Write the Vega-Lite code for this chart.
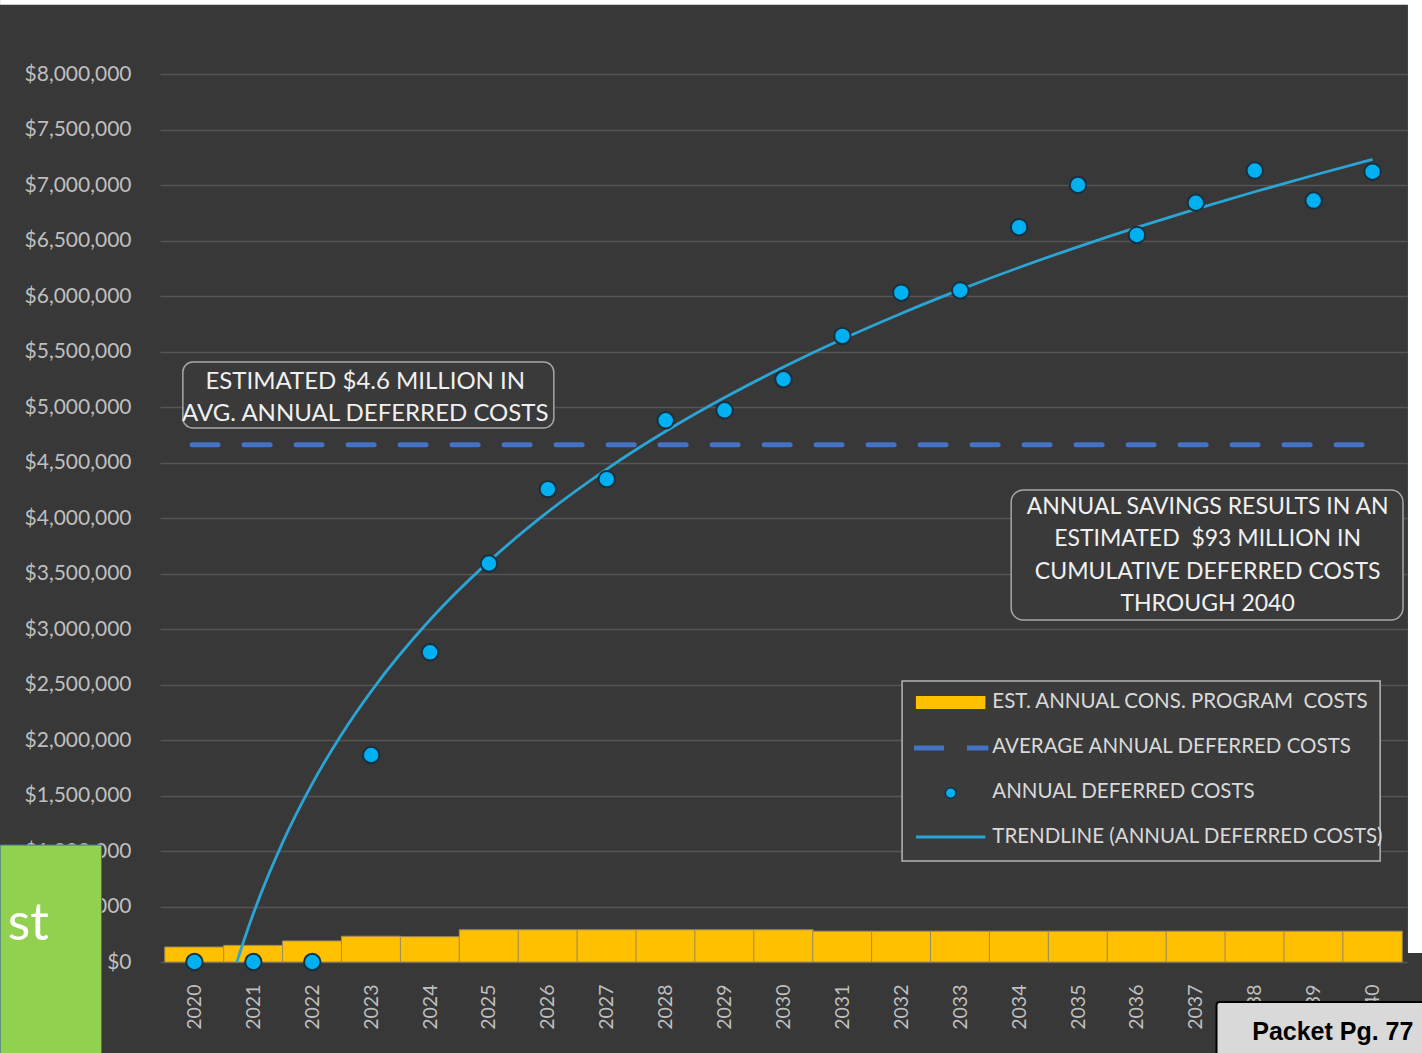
{
  "$schema": "https://vega.github.io/schema/vega-lite/v6.json",
  "width": 1247,
  "height": 888,
  "autosize": {"type": "none"},
  "padding": {"left": 160, "top": 74, "right": 15, "bottom": 91},
  "background": "#383838",
  "config": {"view": {"stroke": null}, "font": "Lato"},
  "datasets": {
    "bars": [
      {"year": 2020, "cost": 135000}, {"year": 2021, "cost": 150000}, {"year": 2022, "cost": 190000},
      {"year": 2023, "cost": 232000}, {"year": 2024, "cost": 228000}, {"year": 2025, "cost": 290000},
      {"year": 2026, "cost": 290000}, {"year": 2027, "cost": 290000}, {"year": 2028, "cost": 290000},
      {"year": 2029, "cost": 290000}, {"year": 2030, "cost": 290000}, {"year": 2031, "cost": 278000},
      {"year": 2032, "cost": 278000}, {"year": 2033, "cost": 278000}, {"year": 2034, "cost": 278000},
      {"year": 2035, "cost": 278000}, {"year": 2036, "cost": 278000}, {"year": 2037, "cost": 278000},
      {"year": 2038, "cost": 278000}, {"year": 2039, "cost": 278000}, {"year": 2040, "cost": 278000}
    ],
    "points": [
      {"year": 2020, "deferred": 0}, {"year": 2021, "deferred": 0}, {"year": 2022, "deferred": 0},
      {"year": 2023, "deferred": 1865000}, {"year": 2024, "deferred": 2790000}, {"year": 2025, "deferred": 3590000},
      {"year": 2026, "deferred": 4260000}, {"year": 2027, "deferred": 4350000}, {"year": 2028, "deferred": 4880000},
      {"year": 2029, "deferred": 4970000}, {"year": 2030, "deferred": 5250000}, {"year": 2031, "deferred": 5640000},
      {"year": 2032, "deferred": 6030000}, {"year": 2033, "deferred": 6050000}, {"year": 2034, "deferred": 6620000},
      {"year": 2035, "deferred": 7000000}, {"year": 2036, "deferred": 6550000}, {"year": 2037, "deferred": 6840000},
      {"year": 2038, "deferred": 7130000}, {"year": 2039, "deferred": 6860000}, {"year": 2040, "deferred": 7120000}
    ],
    "trend": [
      {"year": 2020.72, "trend": 0}, {"year": 2020.85, "trend": 210000}, {"year": 2021, "trend": 436000},
      {"year": 2021.5, "trend": 1080000}, {"year": 2022, "trend": 1607000}, {"year": 2022.5, "trend": 2052000},
      {"year": 2023, "trend": 2438000}, {"year": 2024, "trend": 3083000}, {"year": 2025, "trend": 3609000},
      {"year": 2026, "trend": 4055000}, {"year": 2027, "trend": 4441000}, {"year": 2028, "trend": 4781000},
      {"year": 2029, "trend": 5085000}, {"year": 2030, "trend": 5360000}, {"year": 2031, "trend": 5612000},
      {"year": 2032, "trend": 5843000}, {"year": 2033, "trend": 6057000}, {"year": 2034, "trend": 6257000},
      {"year": 2035, "trend": 6443000}, {"year": 2036, "trend": 6618000}, {"year": 2037, "trend": 6783000},
      {"year": 2038, "trend": 6939000}, {"year": 2039, "trend": 7088000}, {"year": 2040, "trend": 7230000}
    ],
    "avg": [
      {"year": 2019.96, "average": 4660000}, {"year": 2040.04, "average": 4660000}
    ]
  },
  "layer": [
    {
      "data": {"name": "bars"},
      "mark": {"type": "bar", "size": 59.4, "fill": "#ffc000", "stroke": "#9a8a62", "strokeWidth": 1},
      "encoding": {
        "x": {
          "field": "year", "type": "quantitative",
          "scale": {"domain": [2019.5, 2040.5], "nice": false, "zero": false},
          "axis": {
            "title": null, "values": [2020,2021,2022,2023,2024,2025,2026,2027,2028,2029,2030,2031,2032,2033,2034,2035,2036,2037,2038,2039,2040],
            "format": "d", "labelAngle": -90, "labelFont": "Lato", "labelFontSize": 19.5, "labelColor": "#bfbfbf",
            "labelPadding": 22, "ticks": false, "domain": false, "grid": false, "labelOverlap": false
          }
        },
        "y": {
          "field": "cost", "type": "quantitative",
          "scale": {"domain": [0, 8000000], "nice": false},
          "axis": {
            "title": null, "values": [0,500000,1000000,1500000,2000000,2500000,3000000,3500000,4000000,4500000,5000000,5500000,6000000,6500000,7000000,7500000,8000000],
            "format": "$,.0f", "labelFont": "Lato", "labelFontSize": 21, "labelColor": "#bfbfbf", "labelPadding": 29,
            "ticks": false, "domain": false, "gridColor": "#555555", "gridWidth": 1.5
          }
        }
      }
    },
    {
      "data": {"name": "avg"},
      "mark": {"type": "line", "stroke": "#4472c4", "strokeWidth": 5, "strokeDash": [26, 26], "strokeCap": "round"},
      "encoding": {
        "x": {"field": "year", "type": "quantitative"},
        "y": {"field": "average", "type": "quantitative"}
      }
    },
    {
      "data": {"name": "trend"},
      "mark": {"type": "line", "stroke": "#2aa5d6", "strokeWidth": 2.8, "interpolate": "monotone"},
      "encoding": {
        "x": {"field": "year", "type": "quantitative"},
        "y": {"field": "trend", "type": "quantitative"}
      }
    },
    {
      "data": {"name": "points"},
      "mark": {"type": "point", "filled": true, "size": 270, "fill": "#00b0f0", "stroke": "#173040", "strokeWidth": 2, "opacity": 1},
      "encoding": {
        "x": {"field": "year", "type": "quantitative"},
        "y": {"field": "deferred", "type": "quantitative"}
      }
    },
    {
      "data": {"values": [{}]},
      "mark": {"type": "rect", "cornerRadius": 10, "fill": "#3a3a3a", "stroke": "#a6a6a6", "strokeWidth": 1.5},
      "encoding": {
        "x": {"datum": 2019.803, "type": "quantitative"}, "x2": {"datum": 2026.101},
        "y": {"datum": 4811000, "type": "quantitative"}, "y2": {"datum": 5405000}
      }
    },
    {
      "data": {"values": [{"note": "ESTIMATED $4.6 MILLION IN\nAVG. ANNUAL DEFERRED COSTS"}]},
      "mark": {"type": "text", "lineBreak": "\n", "lineHeight": 32, "fontSize": 24, "font": "Lato", "color": "#f0f0f0", "align": "center", "baseline": "middle"},
      "encoding": {
        "x": {"datum": 2022.9, "type": "quantitative"},
        "y": {"datum": 5225000, "type": "quantitative"},
        "text": {"field": "note"}
      }
    },
    {
      "data": {"values": [{}]},
      "mark": {"type": "rect", "cornerRadius": 12, "fill": "#3a3a3a", "stroke": "#a6a6a6", "strokeWidth": 1.5},
      "encoding": {
        "x": {"datum": 2033.865, "type": "quantitative"}, "x2": {"datum": 2040.517},
        "y": {"datum": 3081000, "type": "quantitative"}, "y2": {"datum": 4252000}
      }
    },
    {
      "data": {"values": [{"note": "ANNUAL SAVINGS RESULTS IN AN\nESTIMATED\u00a0 $93 MILLION IN\nCUMULATIVE DEFERRED COSTS\nTHROUGH 2040"}]},
      "mark": {"type": "text", "lineBreak": "\n", "lineHeight": 32.5, "fontSize": 23, "font": "Lato", "color": "#f0f0f0", "align": "center", "baseline": "middle"},
      "encoding": {
        "x": {"datum": 2037.2, "type": "quantitative"},
        "y": {"datum": 4100000, "type": "quantitative"},
        "text": {"field": "note"}
      }
    },
    {
      "data": {"values": [{}]},
      "mark": {"type": "rect", "fill": "#3b3b3b", "stroke": "#b5b5b5", "strokeWidth": 1.5},
      "encoding": {
        "x": {"datum": 2032.013, "type": "quantitative"}, "x2": {"datum": 2040.129},
        "y": {"datum": 2531500, "type": "quantitative"}, "y2": {"datum": 910000}
      }
    },
    {
      "data": {"values": [{}]},
      "mark": {"type": "rect", "fill": "#ffc000"},
      "encoding": {
        "x": {"datum": 2032.248, "type": "quantitative"}, "x2": {"datum": 2033.427},
        "y": {"datum": 2396000, "type": "quantitative"}, "y2": {"datum": 2279000}
      }
    },
    {
      "data": {"values": [{}]},
      "mark": {"type": "rule", "stroke": "#4472c4", "strokeWidth": 5, "strokeDash": [30, 23]},
      "encoding": {
        "x": {"datum": 2032.215, "type": "quantitative"}, "x2": {"datum": 2033.478},
        "y": {"datum": 1928000, "type": "quantitative"}
      }
    },
    {
      "data": {"values": [{}]},
      "mark": {"type": "point", "filled": true, "size": 115, "fill": "#00b0f0", "stroke": "#173040", "strokeWidth": 1.5, "opacity": 1},
      "encoding": {
        "x": {"datum": 2032.838, "type": "quantitative"},
        "y": {"datum": 1522500, "type": "quantitative"}
      }
    },
    {
      "data": {"values": [{}]},
      "mark": {"type": "rule", "stroke": "#2aa5d6", "strokeWidth": 3},
      "encoding": {
        "x": {"datum": 2032.248, "type": "quantitative"}, "x2": {"datum": 2033.427},
        "y": {"datum": 1126000, "type": "quantitative"}
      }
    },
    {
      "data": {"values": [{"entries": "EST. ANNUAL CONS. PROGRAM\u00a0 COSTS\nAVERAGE ANNUAL DEFERRED COSTS\nANNUAL DEFERRED COSTS\nTRENDLINE (ANNUAL DEFERRED COSTS)"}]},
      "mark": {"type": "text", "lineBreak": "\n", "lineHeight": 44.8, "fontSize": 20.5, "font": "Lato", "color": "#d9d9d9", "align": "left", "baseline": "middle"},
      "encoding": {
        "x": {"datum": 2033.545, "type": "quantitative"},
        "y": {"datum": 2338000, "type": "quantitative"},
        "text": {"field": "entries"}
      }
    },
    {
      "data": {"values": [{}]},
      "mark": {"type": "rect", "fill": "#92d050", "stroke": "#41719c", "strokeWidth": 1},
      "encoding": {
        "x": {"datum": 2016.7, "type": "quantitative"}, "x2": {"datum": 2018.422},
        "y": {"datum": 1054000, "type": "quantitative"}, "y2": {"datum": -900000}
      }
    },
    {
      "data": {"values": [{"word": "st"}]},
      "mark": {"type": "text", "fontSize": 52, "font": "Lato", "color": "#ffffff", "align": "right", "baseline": "alphabetic"},
      "encoding": {
        "x": {"datum": 2017.53, "type": "quantitative"},
        "y": {"datum": 198000, "type": "quantitative"},
        "text": {"field": "word"}
      }
    },
    {
      "data": {"values": [{}]},
      "mark": {"type": "rect", "fill": "#d9d9d9", "stroke": "#000000", "strokeWidth": 2, "cornerRadius": 3},
      "encoding": {
        "x": {"datum": 2037.351, "type": "quantitative"}, "x2": {"datum": 2041.2},
        "y": {"datum": -360000, "type": "quantitative"}, "y2": {"datum": -1000000}
      }
    },
    {
      "data": {"values": [{"page": "Packet Pg. 77"}]},
      "mark": {"type": "text", "fontSize": 25, "font": "Liberation Sans", "fontWeight": "bold", "color": "#000000", "align": "left", "baseline": "alphabetic"},
      "encoding": {
        "x": {"datum": 2037.957, "type": "quantitative"},
        "y": {"datum": -703000, "type": "quantitative"},
        "text": {"field": "page"}
      }
    },
    {
      "data": {"values": [{}]},
      "mark": {"type": "rect", "fill": "#ffffff"},
      "encoding": {
        "x": {"datum": 2040.601, "type": "quantitative"}, "x2": {"datum": 2041.2},
        "y": {"datum": 8700000, "type": "quantitative"}, "y2": {"datum": 81000}
      }
    },
    {
      "data": {"values": [{}]},
      "mark": {"type": "rect", "fill": "#ffffff"},
      "encoding": {
        "x": {"datum": 2016.7, "type": "quantitative"}, "x2": {"datum": 2041.2},
        "y": {"datum": 8700000, "type": "quantitative"}, "y2": {"datum": 8625000}
      }
    }
  ]
}
